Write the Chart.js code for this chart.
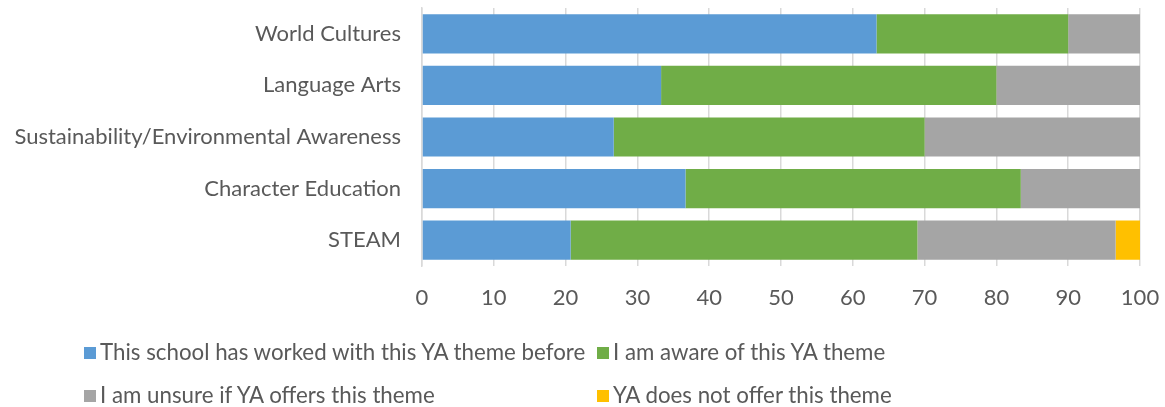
<!DOCTYPE html>
<html><head><meta charset="utf-8">
<script src="https://cdn.jsdelivr.net/npm/chart.js@4"></script>
<style>
html,body{margin:0;padding:0;background:#fff;}
#wrap{position:relative;width:1165px;height:407px;}
#legend{position:absolute;left:0;top:0;width:1165px;height:407px;pointer-events:none;font-family:Lato,"Open Sans",sans-serif;font-size:22.3px;color:#595959;}
.li{position:absolute;white-space:nowrap;line-height:24px;}
.sw{display:inline-block;width:12px;height:12px;margin-right:4px;vertical-align:1px;}
</style></head>
<body>
<div id="wrap"><canvas id="c" width="1165" height="407"></canvas><div id="legend"></div></div>
<script>
const categories = ["World Cultures","Language Arts","Sustainability/Environmental Awareness","Character Education","STEAM"];
const seriesNames = ["This school has worked with this YA theme before","I am aware of this YA theme","I am unsure if YA offers this theme","YA does not offer this theme"];
const workedBefore = [63.3, 33.3, 26.7, 36.7, 20.7];
const aware        = [26.7, 46.7, 43.3, 46.7, 48.3];
const unsure       = [10.0, 20.0, 30.0, 16.7, 27.6];
const notOffered   = [0, 0, 0, 0, 3.4];
const xTicks = [0,10,20,30,40,50,60,70,80,90,100];
const colors = ["#5b9bd5","#70ad47","#a5a5a5","#ffc000"];

const font = "Lato, 'Open Sans', sans-serif";
const values = [workedBefore, aware, unsure, notOffered];
const chart = new Chart(document.getElementById('c'), {
  type: 'bar',
  data: {
    labels: categories,
    datasets: seriesNames.map((n,i)=>({label:n,data:values[i],backgroundColor:colors[i],borderWidth:0,barPercentage:0.76,categoryPercentage:1}))
  },
  options: {
    indexAxis: 'y',
    responsive: false,
    animation: false,
    layout: {padding:{top:8,right:25,bottom:95,left:0}},
    plugins: {legend:{display:false}, tooltip:{enabled:false}},
    scales: {
      x: {
        stacked: true, min: 0, max: 100,
        afterBuildTicks: ax => { ax.ticks = xTicks.map(v=>({value:v})); },
        afterFit: s => { s.paddingLeft = 0; s.paddingRight = 0; s.height = 46; },
        grid: {color:'#d9d9d9', lineWidth:1.5, drawTicks:false},
        border: {display:false},
        ticks: {color:'#595959', font:{family:font,size:22}, padding:19}
      },
      y: {
        stacked: true,
        afterFit: s => { s.paddingTop = 0; s.paddingBottom = 0; s.width = 422; },
        grid: {display:false},
        border: {display:true,color:'#d9d9d9',width:1.5},
        ticks: {color:'#595959', font:{family:font,size:22}, padding:13}
      }
    }
  }
});

const pos = [[84,340],[597,340],[84,383],[597,383]];
const lg = document.getElementById('legend');
seriesNames.forEach((n,i)=>{
  const d=document.createElement('div');d.className='li';
  d.style.left=pos[i][0]+'px';d.style.top=pos[i][1]+'px';
  d.innerHTML='<span class="sw" style="background:'+colors[i]+'"></span>'+n;
  lg.appendChild(d);
});
</script>
</body></html>
